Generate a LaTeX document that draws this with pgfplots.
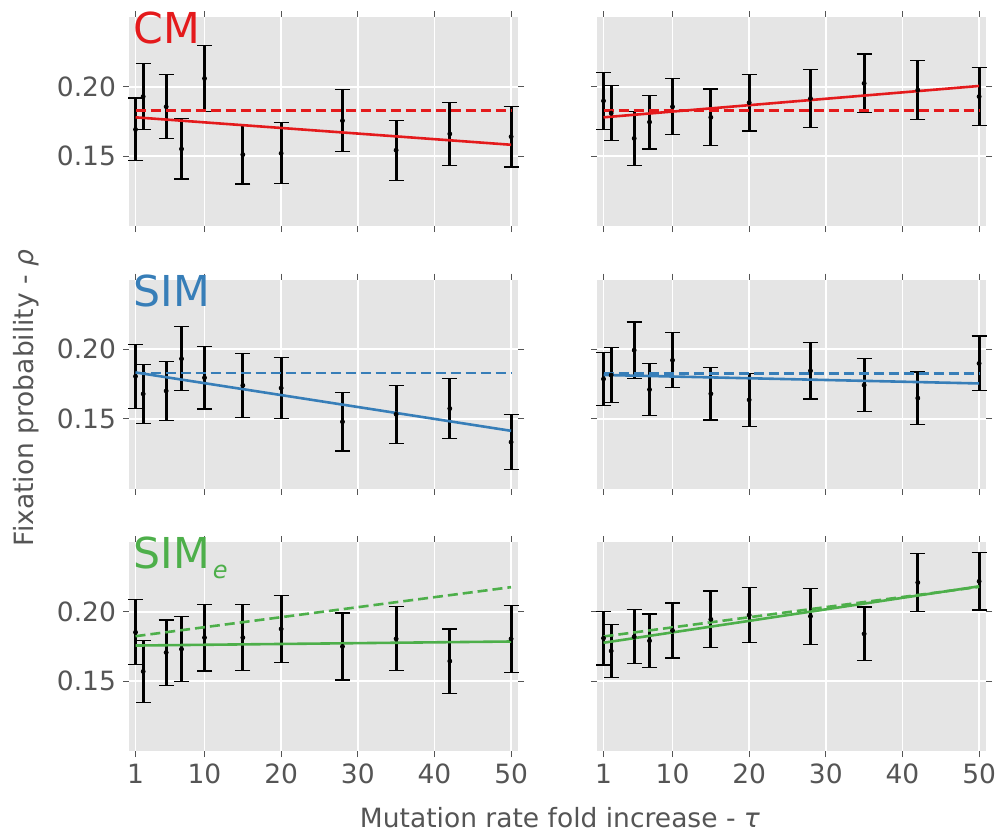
\documentclass[border=0pt]{standalone}
\usepackage{fontspec}
\setmainfont{DejaVu Sans}
\usepackage{pgfplots}
\pgfplotsset{compat=1.18}
\usepackage{pgfplotstable}
\definecolor{bgc}{HTML}{E5E5E5}
\definecolor{txt}{HTML}{555555}
\definecolor{cmred}{HTML}{E41A1C}
\definecolor{simblue}{HTML}{377EB8}
\definecolor{simgreen}{HTML}{4DAF4A}

\pgfplotstableread{
x y e
1 0.1693 0.0225
2 0.1929 0.0235
5 0.1856 0.0230
7 0.1553 0.0216
10 0.2059 0.0235
15 0.1512 0.0210
20 0.1522 0.0219
28 0.1756 0.0221
35 0.1544 0.0216
42 0.1661 0.0225
50 0.1641 0.0218
}\cmL
\pgfplotstableread{
x y e
1 0.1898 0.0203
2 0.1810 0.0198
5 0.1629 0.0194
7 0.1746 0.0193
10 0.1856 0.0202
15 0.1780 0.0204
20 0.1885 0.0203
28 0.1915 0.0209
35 0.2024 0.0210
42 0.1976 0.0209
50 0.1929 0.0207
}\cmR
\pgfplotstableread{
x y e
1 0.1805 0.0229
2 0.1679 0.0213
5 0.1700 0.0213
7 0.1931 0.0230
10 0.1795 0.0224
15 0.1740 0.0229
20 0.1721 0.0219
28 0.1479 0.0210
35 0.1533 0.0208
42 0.1574 0.0213
50 0.1333 0.0199
}\simL
\pgfplotstableread{
x y e
1 0.1786 0.0190
2 0.1814 0.0198
5 0.1993 0.0202
7 0.1710 0.0186
10 0.1921 0.0197
15 0.1680 0.0188
20 0.1636 0.0189
28 0.1845 0.0202
35 0.1742 0.0192
42 0.1649 0.0187
50 0.1898 0.0197
}\simR
\pgfplotstableread{
x y e
1 0.1852 0.0233
2 0.1571 0.0224
5 0.1707 0.0234
7 0.1731 0.0234
10 0.1814 0.0240
15 0.1814 0.0236
20 0.1876 0.0240
28 0.1750 0.0240
35 0.1805 0.0230
42 0.1645 0.0230
50 0.1805 0.0240
}\simeL
\pgfplotstableread{
x y e
1 0.1810 0.0193
2 0.1718 0.0189
5 0.1820 0.0193
7 0.1791 0.0192
10 0.1865 0.0198
15 0.1945 0.0203
20 0.1976 0.0198
28 0.1967 0.0202
35 0.1841 0.0193
42 0.2209 0.0208
50 0.2218 0.0206
}\simeR

\pgfplotsset{
  panel/.style={
    scale only axis, width=194.5pt, height=104.5pt,
    xmin=0.15, xmax=50.9, ymin=0.10, ymax=0.25,
    xtick={1,10,20,30,40,50}, ytick={0.15,0.20},
    axis background/.style={fill=bgc},
    axis line style={draw=none},
    grid=major, major grid style={white, line width=0.9pt},
    tick align=outside, tick pos=both, major tick length=3pt,
    tick style={txt, line width=0.4pt},
    ticklabel style={font=\fontsize{13.25}{15}\selectfont, text=txt},
    /pgf/number format/assume math mode=true,
    yticklabel style={/pgf/number format/fixed, /pgf/number format/fixed zerofill, /pgf/number format/precision=2},
    clip=false,
    anchor=north west,
  },
  ebars/.style={black, only marks, mark=*, mark size=1pt,
    error bars/.cd, y dir=both, y explicit,
    error bar style={line width=1.4pt},
    error mark options={rotate=90, black, mark size=3.75pt, line width=0.6pt}},
  pfit/.style={line width=1.3pt},
  hfit/.style={line width=1.3pt, dash pattern=on 5pt off 2.5pt},
}
\tikzset{ptitle/.style={anchor=base west, inner sep=0pt, xshift=2pt, yshift=-13.25pt, font=\fontsize{21.3}{24}\selectfont}}

\begin{document}
\begin{tikzpicture}
\useasboundingbox (0,0) rectangle (499.5pt,-418pt);

% Row 1: CM
\begin{axis}[panel, at={(64.5pt,-8.5pt)}, xticklabels={}]
\addplot[ebars] table[x=x,y=y,y error=e]{\cmL};
\addplot[cmred, pfit] coordinates {(1,0.1780) (50,0.1583)};
\addplot[cmred, hfit] coordinates {(1,0.1827) (50,0.1827)};
\node[ptitle, text=cmred] at (rel axis cs:0,1) {CM};
\end{axis}
\begin{axis}[panel, at={(298.5pt,-8.5pt)}, xticklabels={}, yticklabels={}]
\addplot[ebars] table[x=x,y=y,y error=e]{\cmR};
\addplot[cmred, pfit] coordinates {(1,0.1780) (50,0.2005)};
\addplot[cmred, hfit] coordinates {(1,0.1827) (50,0.1827)};
\end{axis}

% Row 2: SIM
\begin{axis}[panel, at={(64.5pt,-139.75pt)}, xticklabels={}]
\addplot[ebars] table[x=x,y=y,y error=e]{\simL};
\addplot[simblue, pfit] coordinates {(1,0.1833) (50,0.1414)};
\addplot[simblue, hfit] coordinates {(1,0.1829) (50,0.1829)};
\node[ptitle, text=simblue] at (rel axis cs:0,1) {SIM};
\end{axis}
\begin{axis}[panel, at={(298.5pt,-139.75pt)}, xticklabels={}, yticklabels={}]
\addplot[ebars] table[x=x,y=y,y error=e]{\simR};
\addplot[simblue, pfit] coordinates {(1,0.1815) (50,0.1754)};
\addplot[simblue, hfit] coordinates {(1,0.1827) (50,0.1827)};
\end{axis}

% Row 3: SIM_e
\begin{axis}[panel, at={(64.5pt,-271pt)}]
\addplot[ebars] table[x=x,y=y,y error=e]{\simeL};
\addplot[simgreen, pfit] coordinates {(1,0.1757) (50,0.1786)};
\addplot[simgreen, hfit] coordinates {(1,0.1824) (50,0.2176)};
\node[ptitle, text=simgreen] at (rel axis cs:0,1) {SIM\hspace{1.5pt}\raisebox{-5pt}{\fontsize{12}{13}\selectfont\itshape e}};
\end{axis}
\begin{axis}[panel, at={(298.5pt,-271pt)}, yticklabels={}]
\addplot[ebars] table[x=x,y=y,y error=e]{\simeR};
\addplot[simgreen, pfit] coordinates {(1,0.1777) (50,0.2182)};
\addplot[simgreen, hfit] coordinates {(1,0.1822) (50,0.2178)};
\end{axis}

\node[anchor=base, rotate=90, inner sep=0pt, text=txt, font=\fontsize{13.25}{15}\selectfont] at (16.5pt,-199pt) {Fixation probability - \textit{ρ}};
\node[anchor=base, inner sep=0pt, text=txt, font=\fontsize{13.25}{15}\selectfont] at (280pt,-413.5pt) {Mutation rate fold increase - \textit{τ}};
\end{tikzpicture}
\end{document}
